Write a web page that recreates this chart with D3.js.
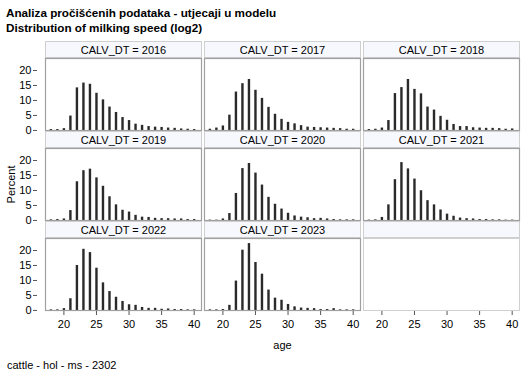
<!DOCTYPE html>
<html><head><meta charset="utf-8">
<script src="https://cdn.jsdelivr.net/npm/d3@7"></script>
<style>
html,body{margin:0;padding:0;background:#fff;}
svg{display:block;font-family:"Liberation Sans",Arial,sans-serif;}
</style></head>
<body>
<svg id="chart" width="529" height="378"></svg>
<script>
const titleLines = ["Analiza pročišćenih podataka - utjecaji u modelu", "Distribution of milking speed (log2)"];
const footnote = "cattle - hol - ms - 2302";
const xLabel = "age";
const yLabel = "Percent";
const panelPrefix = "CALV_DT = ";
const years = [2016, 2017, 2018, 2019, 2020, 2021, 2022, 2023];
const ages = [18,19,20,21,22,23,24,25,26,27,28,29,30,31,32,33,34,35,36,37,38,39,40];
const xTicks = [20, 25, 30, 35, 40];
const yTicks = [0, 5, 10, 15, 20];

const pct2016 = [0.3,0.3,0.6,4.8,14.2,15.8,15.4,12.4,10.2,7.8,6.0,4.3,3.3,2.1,1.7,1.3,1.1,1.0,0.8,0.7,0.5,0.4,0.3];
const pct2017 = [0.4,0.8,1.5,5.1,12.8,15.6,17.0,13.4,10.7,7.7,5.4,3.7,2.7,2.2,1.6,1.1,1.0,0.9,0.8,0.7,0.6,0.4,0.4];
const pct2018 = [0.3,0.4,0.8,3.3,12.3,14.3,17.0,13.7,12.2,7.8,6.8,4.7,3.4,2.0,1.3,1.3,0.9,0.8,0.7,0.7,0.6,0.4,0.5];
const pct2019 = [0.2,0.3,0.5,3.3,12.9,16.6,17.1,14.2,11.4,7.9,5.2,3.4,2.8,1.7,1.1,1.0,0.7,0.6,0.6,0.5,0.5,0.3,0.3];
const pct2020 = [0.1,0.1,0.5,2.3,9.0,17.3,19.0,15.8,11.8,7.7,5.4,3.8,2.4,1.5,1.1,0.9,0.6,0.7,0.5,0.3,0.2,0.2,0.2];
const pct2021 = [0.1,0.2,1.0,5.2,13.6,19.3,17.2,13.8,9.9,6.6,5.2,3.5,2.1,1.4,0.8,0.6,0.5,0.3,0.3,0.2,0.2,0.1,0.1];
const pct2022 = [0.2,0.2,0.6,3.9,15.0,20.4,19.3,14.1,9.2,6.3,4.4,3.0,1.9,1.7,1.0,0.7,0.7,0.4,0.5,0.3,0.3,0.2,0.2];
const pct2023 = [0.2,0.2,0.3,1.7,9.8,20.1,22.3,16.0,12.1,6.8,4.1,3.4,2.0,1.2,0.8,0.7,0.6,0.3,0.3,0.6,0.2,0.2,0.2];
const seriesValues = [pct2016, pct2017, pct2018, pct2019, pct2020, pct2021, pct2022, pct2023];

const svg = d3.select("#chart");
const nCols = 3, nRows = 3;
const gridLeft = 45, colW = 157, colGap = 2;
const gridTop = 41, rowH = 90, headH = 17;
const plotH = rowH - headH;

const x = d3.scaleLinear().domain([17.1, 41.2]).range([0, colW]);
const y = d3.scaleLinear().domain([-0.35, 24]).range([plotH, 0]);

// titles
svg.selectAll("text.title").data(titleLines).enter().append("text")
  .attr("class","title").attr("x",6).attr("y",(d,i)=>16.5+i*15.5)
  .attr("font-size","11.7px").attr("font-weight","bold").attr("fill","#000").text(d=>d);

const cells = [];
for (let i = 0; i < nRows*nCols; i++) cells.push(i);

cells.forEach(i => {
  const c = i % nCols, r = Math.floor(i / nCols);
  const x0 = gridLeft + c*(colW+colGap), y0 = gridTop + r*rowH;
  const g = svg.append("g").attr("transform",`translate(${x0},${y0})`);
  const has = i < years.length;
  g.append("rect").attr("x",0.5).attr("y",0.5).attr("width",colW-1).attr("height",headH-1)
    .attr("fill","#f7f8fe").attr("stroke","#cfcfcf");
  if (has) {
    g.append("text").attr("x",colW/2).attr("y",12.5).attr("text-anchor","middle")
      .attr("font-size","11px").attr("fill","#000").text(panelPrefix + years[i]);
  }
  const p = g.append("g").attr("transform",`translate(0,${headH})`);
  if (has) {
    const vals = seriesValues[i];
    p.selectAll("rect.bar").data(ages.map((a,k)=>({a, v: vals[k]}))).enter().append("rect")
      .attr("class","bar")
      .attr("x", d => x(d.a) - 1.2).attr("width", 2.4)
      .attr("y", d => y(d.v)).attr("height", d => y(0) - y(d.v) + 0.6)
      .attr("fill","#2a2a2a");
  }
  p.append("rect").attr("x",0.5).attr("y",0.5).attr("width",colW-1).attr("height",plotH-1)
    .attr("fill","none").attr("stroke", has ? "#a0a0a0" : "#d0d0d0").attr("stroke-width", has ? 1.2 : 1);

  // y axis on the left column
  if (c === 0) {
    const ya = p.append("g");
    yTicks.forEach(t => {
      ya.append("line").attr("x1",-12).attr("x2",-8).attr("y1",y(t)+0.5).attr("y2",y(t)+0.5)
        .attr("stroke","#555");
      ya.append("text").attr("x",-13.5).attr("y",y(t)+4).attr("text-anchor","end")
        .attr("font-size","11px").attr("fill","#000").text(t);
    });
  }
  // x axis on the bottom row
  if (r === nRows-1) {
    const xa = p.append("g").attr("transform",`translate(0,${plotH})`);
    xTicks.forEach(t => {
      xa.append("line").attr("x1",x(t)).attr("x2",x(t)).attr("y1",0).attr("y2",4).attr("stroke","#555");
      xa.append("text").attr("x",x(t)).attr("y",16.5).attr("text-anchor","middle")
        .attr("font-size","11px").attr("fill","#000").text(t);
    });
  }
});

const gridRight = gridLeft + nCols*colW + (nCols-1)*colGap;
svg.append("text").attr("x",(gridLeft+gridRight)/2).attr("y",349).attr("text-anchor","middle")
  .attr("font-size","11px").attr("fill","#000").text(xLabel);
svg.append("text").attr("transform",`translate(15,${gridTop+rowH+headH+plotH/2}) rotate(-90)`)
  .attr("text-anchor","middle").attr("font-size","11px").attr("fill","#000").text(yLabel);
svg.append("text").attr("x",7).attr("y",369).attr("font-size","11px").attr("fill","#000").text(footnote);
</script>
</body></html>
